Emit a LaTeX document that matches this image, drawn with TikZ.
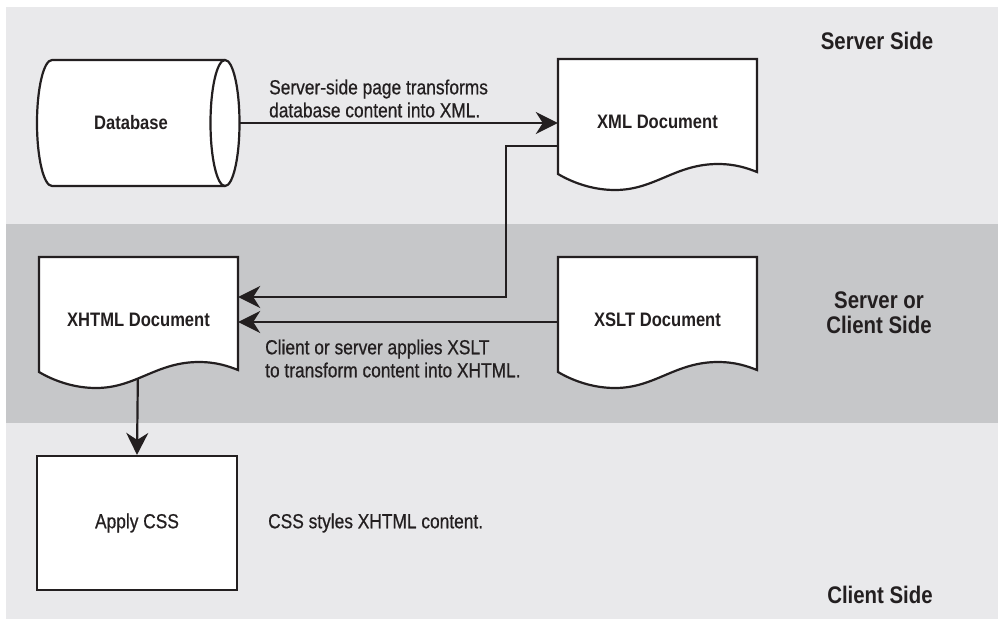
\documentclass[tikz,border=0pt]{standalone}
\usepackage{fontspec}
\setmainfont{Liberation Sans}[FakeStretch=0.85]
\newfontfamily\labelfont{Liberation Sans}[FakeStretch=0.85, FakeBold=0.6]
\usetikzlibrary{arrows.meta,calc}
\pgfdeclarelayer{bg}
\pgfsetlayers{bg,main}
\definecolor{lightband}{HTML}{E9E9EB}
\definecolor{darkband}{HTML}{C6C7C9}
\definecolor{ink}{HTML}{231F20}
\tikzset{
  shapeline/.style={draw=ink, line width=2.2pt, fill=white},
  conn/.style={draw=ink, line width=2.2pt, -{Stealth[length=22pt,width=22pt,inset=7pt]}},
  labeltext/.style={inner sep=0pt, align=left, text=ink, font=\labelfont\fontsize{20.4}{23}\selectfont},
  nodelabel/.style={text=ink, font=\bfseries\fontsize{19.5}{23}\selectfont},
  titletext/.style={align=center, text=ink, inner sep=0pt, font=\bfseries\fontsize{24}{25}\selectfont},
  docnode/.style={minimum width=199pt, minimum height=126pt, inner sep=0pt, nodelabel},
  docshape/.pic={
    \path[shapeline] (0,0) -- (199,0) -- (199,113)
      .. controls (189,109) and (177,105) .. (160,105)
      .. controls (117,105) and (97,131) .. (57,131)
      .. controls (37,131) and (17,125) .. (0,115) -- cycle;
  }
}
\begin{document}
\begin{tikzpicture}[x=1pt, y=-1pt]
\useasboundingbox (0,0) rectangle (998,619);
\begin{pgfonlayer}{bg}
  \fill[lightband] (6,7) rectangle (998,224);
  \fill[darkband] (6,224) rectangle (998,423);
  \fill[lightband] (6,423) rectangle (998,619);
\end{pgfonlayer}

% database cylinder
\path[draw=ink, line width=2.2pt, fill=white] (225,60) -- (52,60)
  .. controls (43.7,60) and (37,88.2) .. (37,123)
  .. controls (37,157.8) and (43.7,186) .. (52,186) -- (225,186);
\draw[shapeline] (225,123) ellipse [x radius=14.5pt, y radius=63pt];
\node[nodelabel, minimum width=188pt, minimum height=126pt, inner sep=0pt] (db) at (131,123) {Database};

% documents
\pic at (558,59) {docshape};
\node[docnode] (xml) at (657.5,122) {XML Document};
\pic at (39,257) {docshape};
\node[docnode] (xhtml) at (138.5,320) {XHTML Document};
\pic at (558,257) {docshape};
\node[docnode] (xslt) at (657.5,320) {XSLT Document};

% apply css box
\node[shapeline, minimum width=200pt, minimum height=134pt, inner sep=0pt, text=ink, font=\labelfont\fontsize{20.4}{23}\selectfont] (css) at (137,523) {Apply CSS};

% labels
\node[labeltext, anchor=west] (lab1) at (269,98.5) {Server-side page transforms\\database content into XML.};
\node[labeltext, anchor=west] (lab2) at (265,358.5) {Client or server applies XSLT\\to transform content into XHTML.};
\node[labeltext, anchor=west] (lab3) at (268,523) {CSS styles XHTML content.};

% titles
\node[titletext] (t1) at (877,41) {Server Side};
\node[titletext] (t2) at (879,313) {Server or\\Client Side};
\node[titletext] (t3) at (880,595) {Client Side};

% connectors
\draw[conn] ([xshift=14.5pt]db.east) -- (xml.west |- db.east);
\draw[conn] ([yshift=-24pt]xml.west) -- ++(-52,0) |- ([yshift=23pt]xhtml.east);
\draw[conn] ([yshift=-2pt]xslt.west) -- ([yshift=-2pt]xhtml.east);
\begin{pgfonlayer}{bg}
  \draw[conn] (xhtml.center) -- (css.north);
\end{pgfonlayer}
\end{tikzpicture}
\end{document}
